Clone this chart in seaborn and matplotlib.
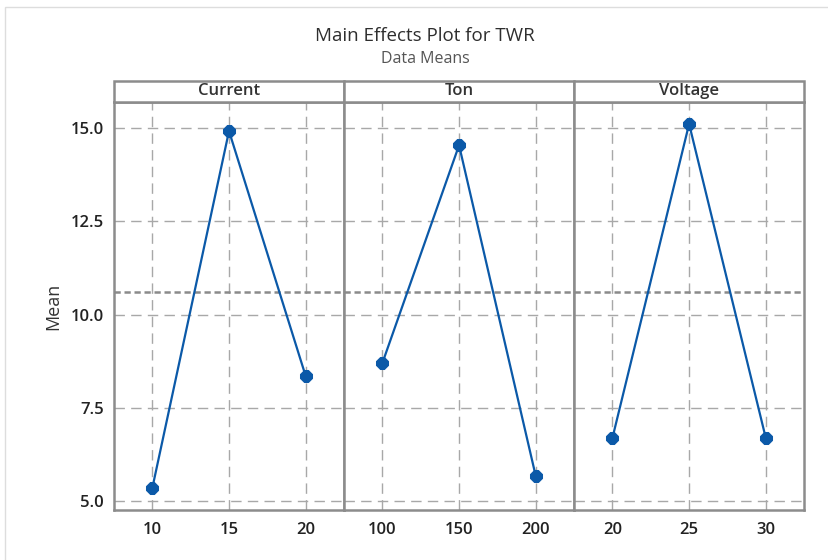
import pandas as pd
import seaborn as sns
import matplotlib.pyplot as plt
from matplotlib.patches import Rectangle

# data
factors = ['Current', 'Ton', 'Voltage']
current_levels = [10, 15, 20]
current_means = [5.35, 14.92, 8.35]
ton_levels = [100, 150, 200]
ton_means = [8.70, 14.54, 5.67]
voltage_levels = [20, 25, 30]
voltage_means = [6.69, 15.11, 6.69]
grand_mean = 10.60
y_ticks = [5.0, 7.5, 10.0, 12.5, 15.0]

rows = []
for f, lv, mv in zip(factors, [current_levels, ton_levels, voltage_levels],
                     [current_means, ton_means, voltage_means]):
    for l, m in zip(lv, mv):
        rows.append({'factor': f, 'level': l, 'mean': m})
df = pd.DataFrame(rows)

sns.set_style('white')
plt.rcParams['font.family'] = ['Open Sans', 'DejaVu Sans']

blue = '#0B59A8'
frame = '#8C8C8C'
grid_c = '#A8A8A8'
txt = '#333333'

g = sns.FacetGrid(df, col='factor', col_order=factors, sharex=False, sharey=True)
g.figure.set_size_inches(8.29, 5.60)
g.figure.subplots_adjust(left=0.1375, right=0.970, bottom=0.0893, top=0.8179, wspace=0)

for ax, f in zip(g.axes.flat, factors):
    sub = df[df['factor'] == f]
    sns.lineplot(data=sub, x='level', y='mean', ax=ax, color=blue, lw=1.6,
                 marker='8', markersize=9, markeredgecolor=blue, zorder=5)
    lv = sub['level'].tolist()
    span = max(lv) - min(lv)
    ax.set_xlim(min(lv) - 0.25 * span, max(lv) + 0.25 * span)
    ax.set_xticks(lv)
    ax.set_xticklabels([str(v) for v in lv])
    ax.set_ylim(4.76, 15.70)
    ax.set_yticks(y_ticks)
    ax.set_yticklabels([f'{v:.1f}' for v in y_ticks])
    ax.grid(True, color=grid_c, ls=(0, (7.5, 4.5)), lw=1)
    ax.set_axisbelow(True)
    ax.axhline(grand_mean, color='#8A8A8A', ls=(0, (2.5, 1.5)), lw=1.8, zorder=3)
    ax.set_title('')
    ax.set_xlabel('')
    ax.set_ylabel('')
    for s in ax.spines.values():
        s.set_visible(True)
        s.set_color(frame)
        s.set_linewidth(1.8)
    ax.tick_params(axis='both', colors=frame, labelcolor='#222222', labelsize=12,
                   length=4, width=1, direction='out')
    ax.tick_params(axis='x', length=0, pad=9)
    for lab in ax.get_xticklabels() + ax.get_yticklabels():
        lab.set_fontweight('semibold')
    # strip header
    strip_h = 21 / 408
    ax.add_patch(Rectangle((0, 1), 1, strip_h, transform=ax.transAxes, clip_on=False,
                           facecolor='white', edgecolor=frame, lw=1.8, zorder=10))
    ax.text(0.5, 1 + strip_h / 2, f, transform=ax.transAxes, ha='center', va='center',
            fontsize=12, color=txt, fontweight='semibold', zorder=11)

for ax in g.axes.flat[1:]:
    ax.tick_params(axis='y', left=False, labelleft=False)

g.axes.flat[0].set_ylabel('Mean', fontsize=13, color=txt, labelpad=6)

fig = g.figure
fig.text(0.513, 0.935, 'Main Effects Plot for TWR', ha='center', va='center',
         fontsize=13.5, color='#2E2E2E')
fig.text(0.513, 0.894, 'Data Means', ha='center', va='center',
         fontsize=11.5, color='#555555')
fig.add_artist(Rectangle((0.006, -0.1), 1.2, 1.088, transform=fig.transFigure,
                         facecolor='none', edgecolor='#DDDDDD', lw=1))

fig.savefig('out.png', dpi=100)
